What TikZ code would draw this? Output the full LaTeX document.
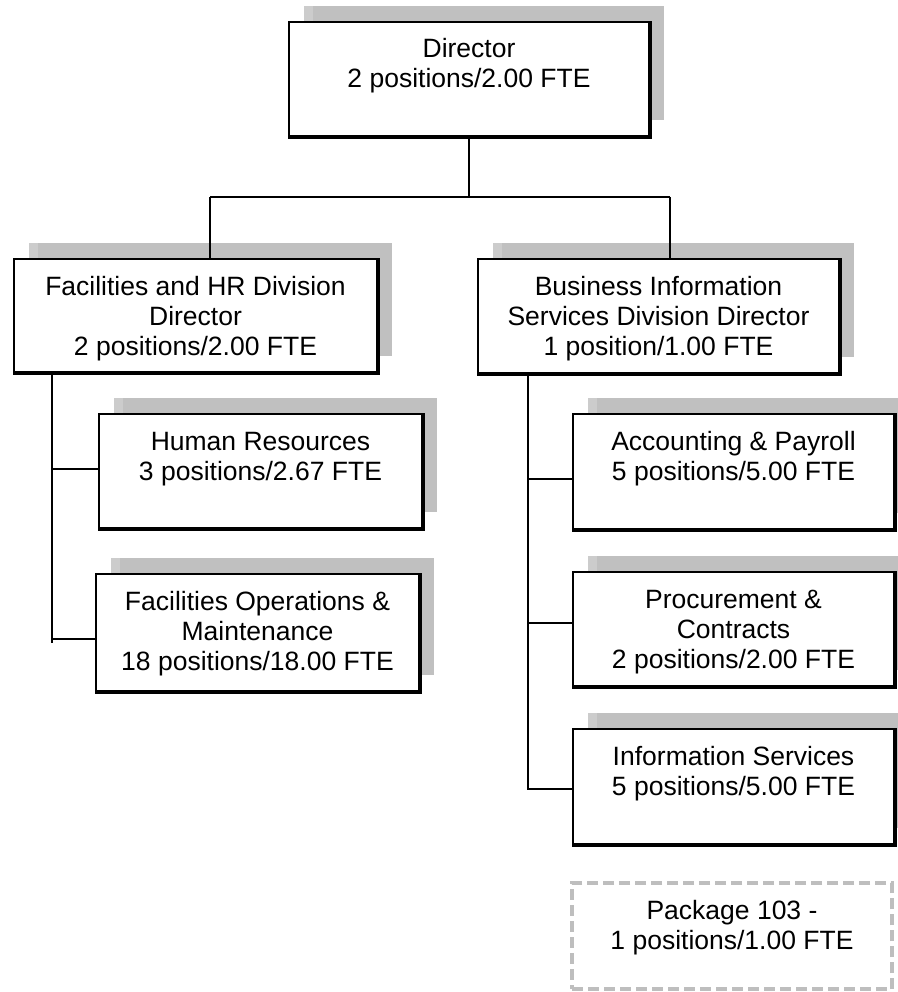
\documentclass[tikz,border=0pt]{standalone}
\usepackage{fontspec}
\setmainfont{Liberation Sans}
\usetikzlibrary{shadows}
\definecolor{shadowgray}{RGB}{192,192,192}
\definecolor{shadowlight}{RGB}{204,204,204}
\definecolor{dashgray}{RGB}{190,190,190}
% box text: width, height, lines (top aligned, first baseline 36pt below the top)
\newcommand\orgtext[3]{\parbox[c][#2][t]{#1}{\centering\lineskiplimit=-50pt\rule{0pt}{36pt}#3}}
\tikzset{
  orgbox/.style={draw=black, line width=2pt, fill=white, inner sep=0pt, outer sep=0pt,
    font=\fontsize{26.5}{30}\selectfont,
    general shadow={shadow xshift=15pt, shadow yshift=16pt, fill=shadowgray, draw=none}},
  pendingbox/.style={draw=dashgray, line width=3.5pt, dash pattern=on 11pt off 5pt,
    fill=white, inner sep=0pt, outer sep=0pt, font=\fontsize{26.5}{30}\selectfont},
  link/.style={draw=black, line width=2pt}
}
\begin{document}
\begin{tikzpicture}[x=1pt, y=-1pt]
\fill[white] (0,0) rectangle (897,992);
\useasboundingbox (0,0) rectangle (897,992);

% top level
\node[orgbox] (dir) at (469,79) {\orgtext{360pt}{114pt}{Director\\2 positions/2.00 FTE}};

% divisions
\node[orgbox] (fhr) at (195.5,315.5) {\orgtext{363pt}{113pt}{Facilities and HR Division\\Director\\2 positions/2.00 FTE}};
\node[orgbox] (bis) at (658.5,316) {\orgtext{361pt}{114pt}{Business Information\\Services Division Director\\1 position/1.00 FTE}};

% facilities and HR units
\node[orgbox] (hr) at (260.5,471) {\orgtext{323pt}{114pt}{Human Resources\\3 positions/2.67 FTE}};
\node[orgbox] (fom) at (257.5,632.5) {\orgtext{323pt}{117pt}{Facilities Operations \&\\Maintenance\\18 positions/18.00 FTE}};

% business information services units
\node[orgbox] (acc) at (733.5,471.5) {\orgtext{321pt}{115pt}{Accounting \& Payroll\\5 positions/5.00 FTE}};
\node[orgbox] (pc) at (733.5,629) {\orgtext{321pt}{114pt}{Procurement \&\\Contracts\\2 positions/2.00 FTE}};
\node[orgbox] (is) at (733.5,786.5) {\orgtext{321pt}{115pt}{Information Services\\5 positions/5.00 FTE}};

% package position
\node[pendingbox] (pkg) at (732,936) {\orgtext{320pt}{106pt}{Package 103 -\\1 positions/1.00 FTE}};

% lighter band at the left end of each shadow, and heavier bottom and right edges
\foreach \n in {dir,fhr,bis,hr,fom,acc,pc,is}{
  \fill[shadowlight] ([shift={(15,-16)}]\n.north west) rectangle ([shift={(24,-1)}]\n.north west);
  \draw[line width=1.6pt] ([shift={(-1,1.8)}]\n.south west) -- ([shift={(1.8,1.8)}]\n.south east) -- ([shift={(1.8,-1)}]\n.north east);
}

% connectors
\coordinate (lt) at (210,197);
\coordinate (rt) at (670,197);
\draw[link] (dir.south) -- (dir.south |- lt);
\draw[link] (lt) -- (rt);
\draw[link] (lt) -- (lt |- fhr.north);
\draw[link] (rt) -- (rt |- bis.north);

\coordinate (ls) at (52,643);
\draw[link] (ls |- fhr.south) -- (ls);
\draw[link] ([yshift=2pt]hr.west -| ls) -- ([yshift=2pt]hr.west);
\draw[link] ([yshift=-6.5pt]fom.west -| ls) -- ([yshift=-6.5pt]fom.west);

\coordinate (rs) at (528,790);
\draw[link] (rs |- bis.south) -- (rs);
\draw[link] ([yshift=-7.5pt]acc.west -| rs) -- ([yshift=-7.5pt]acc.west);
\draw[link] ([yshift=6pt]pc.west -| rs) -- ([yshift=6pt]pc.west);
\draw[link] ([yshift=-2.5pt]is.west -| rs) -- ([yshift=-2.5pt]is.west);
\end{tikzpicture}
\end{document}
